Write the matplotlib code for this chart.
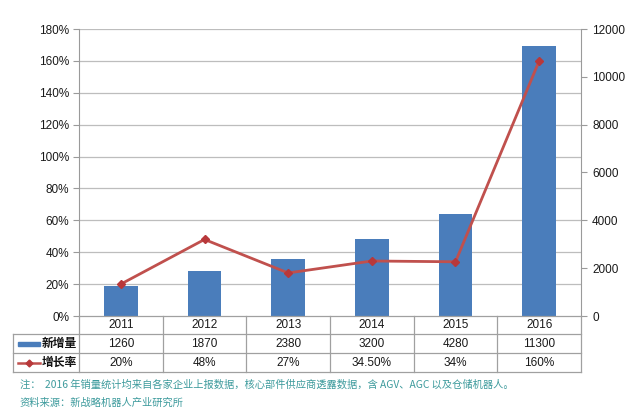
import matplotlib
matplotlib.use("Agg")
import matplotlib.pyplot as plt
from matplotlib.patches import Rectangle
from matplotlib.lines import Line2D

plt.rcParams['font.family'] = ['Liberation Sans', 'Noto Sans CJK SC', 'DejaVu Sans']

years = ['2011', '2012', '2013', '2014', '2015', '2016']
new_units = [1260, 1870, 2380, 3200, 4280, 11300]
growth = [20, 48, 27, 34.5, 34, 160]
growth_labels = ['20%', '48%', '27%', '34.50%', '34%', '160%']
series_names = ['新增量', '增长率']
left_ticks = [0, 20, 40, 60, 80, 100, 120, 140, 160, 180]
right_ticks = [0, 2000, 4000, 6000, 8000, 10000, 12000]
note1 = '注：  2016 年销量统计均来自各家企业上报数据，核心部件供应商透露数据，含 AGV、AGC 以及仓储机器人。'
note2 = '资料来源：新战略机器人产业研究所'

W, H = 640, 419
fig = plt.figure(figsize=(W/100, H/100), dpi=100)
fig.patch.set_facecolor('white')

x0, x1, y_top, y_bot = 79, 581, 29, 316
ax = fig.add_axes([x0/W, 1 - y_bot/H, (x1-x0)/W, (y_bot-y_top)/H])
ax2 = ax.twinx()
ax.set_zorder(ax2.get_zorder() + 1)
ax.patch.set_visible(False)

xs = list(range(len(years)))
bar_color = '#4a7dbb'
line_color = '#c0504d'
marker_color = '#b8383a'
grid_color = '#bdbdbd'

ax2.bar(xs, new_units, width=0.40, color=bar_color, zorder=2)
ax2.set_ylim(0, 12000)
ax2.set_yticks(right_ticks)
ax2.set_yticklabels([str(t) for t in right_ticks])

ax.plot(xs, growth, color=line_color, lw=2.0, marker='D', markersize=4.5,
        markerfacecolor=marker_color, markeredgecolor=marker_color, zorder=3)
ax.set_ylim(0, 180)
ax.set_yticks(left_ticks)
ax.set_yticklabels([f'{t}%' for t in left_ticks])
ax.set_xlim(-0.5, len(years) - 0.5)
ax.set_xticks([])

for t in left_ticks[1:]:
    ax2.axhline(t / 180 * 12000, color=grid_color, lw=0.9, zorder=1)

for a in (ax, ax2):
    a.spines['top'].set_visible(False)
    a.spines['bottom'].set_visible(False)
    a.spines['left'].set_color('#9a9a9a')
    a.spines['right'].set_color('#9a9a9a')
    a.tick_params(axis='y', colors='#9a9a9a', labelcolor='#1a1a1a', labelsize=8.5,
                  length=4, width=0.8)
ax.spines['right'].set_visible(False)
ax2.spines['left'].set_visible(False)
ax.tick_params(axis='y', pad=3)
ax2.tick_params(axis='y', pad=4)

def fx(px):
    return px / W

def fy(py):
    return 1 - py / H

tbl_left = 13
row_y = [316, 334, 353, 372]
col_w = (x1 - x0) / len(years)
col_edges = [x0 + i * col_w for i in range(len(years) + 1)]
lc = '#a0a0a0'

fig.add_artist(Line2D([fx(x0), fx(x1)], [fy(row_y[0]), fy(row_y[0])], color=lc, lw=0.9))
for yy in row_y[1:]:
    fig.add_artist(Line2D([fx(tbl_left), fx(x1)], [fy(yy), fy(yy)], color=lc, lw=0.9))
for xe in col_edges:
    fig.add_artist(Line2D([fx(xe), fx(xe)], [fy(row_y[0]), fy(row_y[3])], color=lc, lw=0.9))
fig.add_artist(Line2D([fx(tbl_left), fx(tbl_left)], [fy(row_y[1]), fy(row_y[3])], color=lc, lw=0.9))

for i, yr in enumerate(years):
    cx = fx((col_edges[i] + col_edges[i+1]) / 2)
    fig.text(cx, fy((row_y[0] + row_y[1]) / 2), yr, ha='center', va='center', fontsize=8.5, color='#1a1a1a')
    fig.text(cx, fy((row_y[1] + row_y[2]) / 2), str(new_units[i]), ha='center', va='center', fontsize=8.5, color='#1a1a1a')
    fig.text(cx, fy((row_y[2] + row_y[3]) / 2), growth_labels[i], ha='center', va='center', fontsize=8.5, color='#1a1a1a')

r1c = (row_y[1] + row_y[2]) / 2
r2c = (row_y[2] + row_y[3]) / 2
fig.add_artist(Rectangle((fx(18), fy(r1c + 2)), fx(40) - fx(18), fy(r1c - 2) - fy(r1c + 2),
                         transform=fig.transFigure, color=bar_color))
fig.text(fx(42), fy(r1c), series_names[0], ha='left', va='center', fontsize=8.5,
         color='#111111', fontweight='bold', family=['Noto Sans CJK SC'])
fig.add_artist(Line2D([fx(18), fx(40)], [fy(r2c), fy(r2c)], color=line_color, lw=1.8))
fig.add_artist(Line2D([fx(29)], [fy(r2c)], marker='D', markersize=3.5,
                      color=marker_color, lw=0))
fig.text(fx(42), fy(r2c), series_names[1], ha='left', va='center', fontsize=8.5,
         color='#111111', fontweight='bold', family=['Noto Sans CJK SC'])

note_color = '#3c9a9c'
fig.text(fx(20), fy(385), note1, ha='left', va='center', fontsize=7.4, color=note_color,
         family=['Noto Sans CJK SC', 'DejaVu Sans'])
fig.text(fx(20), fy(403), note2, ha='left', va='center', fontsize=7.4, color=note_color,
         family=['Noto Sans CJK SC', 'DejaVu Sans'])

fig.savefig('out.png', dpi=100, facecolor='white')
